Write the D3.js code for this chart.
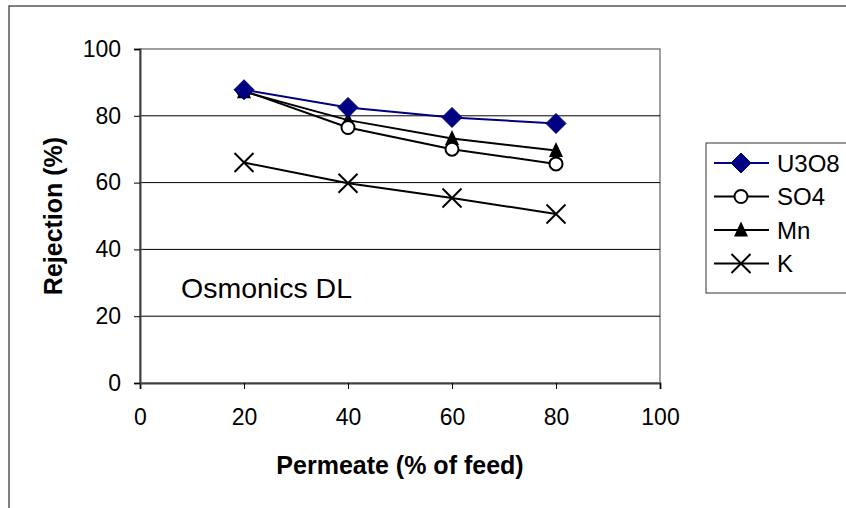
<!DOCTYPE html>
<html>
<head>
<meta charset="utf-8">
<script src="https://cdn.jsdelivr.net/npm/d3@7"></script>
<style>
  html, body { margin: 0; padding: 0; background: #fff; }
  svg { display: block; font-family: Arial, "Liberation Sans", sans-serif; }
</style>
</head>
<body>
<svg id="chart" width="846" height="508"></svg>
<script>
// Rejection of species by the Osmonics DL membrane vs. permeate recovery
const permeate = [20, 40, 60, 80];
const u3o8 = [87.8, 82.5, 79.5, 77.7];
const so4  = [87.5, 76.5, 70.0, 65.6];
const mn   = [87.2, 78.7, 73.2, 69.6];
const kVal = [66.0, 59.8, 55.4, 50.6];
const seriesNames = ["U3O8", "SO4", "Mn", "K"];
const xTicks = [0, 20, 40, 60, 80, 100];
const yTicks = [0, 20, 40, 60, 80, 100];

const series = [
  { name: seriesNames[0], values: u3o8, color: "#000080", marker: "diamond" },
  { name: seriesNames[1], values: so4,  color: "#000000", marker: "circle" },
  { name: seriesNames[2], values: mn,   color: "#000000", marker: "triangle" },
  { name: seriesNames[3], values: kVal, color: "#000000", marker: "cross" }
];

const FONT = "Arial, 'Liberation Sans', sans-serif";
const svg = d3.select("#chart");

// outer chart frame (runs off the right and bottom edges)
svg.append("rect")
  .attr("x", 9).attr("y", 6).attr("width", 860).attr("height", 520)
  .attr("fill", "#fff").attr("stroke", "#555").attr("stroke-width", 1.5);

const x = d3.scaleLinear().domain([0, 100]).range([140, 660]);
const y = d3.scaleLinear().domain([0, 100]).range([383, 49]);

// plot area border
svg.append("rect")
  .attr("x", x(0)).attr("y", y(100))
  .attr("width", x(100) - x(0)).attr("height", y(0) - y(100))
  .attr("fill", "#fff").attr("stroke", "#808080").attr("stroke-width", 1.5);

// horizontal gridlines
svg.append("g").selectAll("line")
  .data(yTicks.filter(d => d > 0 && d < 100))
  .join("line")
  .attr("x1", x(0)).attr("x2", x(100))
  .attr("y1", d => y(d)).attr("y2", d => y(d))
  .attr("stroke", "#000").attr("stroke-width", 1);

// axes
const xAxis = svg.append("g")
  .attr("transform", `translate(0,${y(0)})`)
  .call(d3.axisBottom(x).tickValues(xTicks).tickSize(6).tickPadding(20).tickFormat(d3.format("d")));
const yAxis = svg.append("g")
  .attr("transform", `translate(${x(0)},0)`)
  .call(d3.axisLeft(y).tickValues(yTicks).tickSize(6).tickPadding(13).tickFormat(d3.format("d")));

[xAxis, yAxis].forEach(a => {
  a.attr("font-size", 23).attr("font-family", FONT);
  a.select(".domain").attr("stroke", "#404040").attr("stroke-width", 2);
  a.selectAll(".tick line").attr("stroke", "#000");
  a.selectAll(".tick text").attr("fill", "#000");
});

// axis titles
svg.append("text")
  .attr("x", 400).attr("y", 474)
  .attr("text-anchor", "middle")
  .attr("font-size", 25).attr("font-weight", "bold")
  .text("Permeate (% of feed)");
svg.append("text")
  .attr("transform", `translate(62,${(y(0) + y(100)) / 2}) rotate(-90)`)
  .attr("text-anchor", "middle")
  .attr("font-size", 25).attr("font-weight", "bold")
  .text("Rejection (%)");

// annotation
svg.append("text")
  .attr("x", 181).attr("y", 298)
  .attr("font-size", 28.5)
  .text("Osmonics DL");

function drawMarker(g, type, color) {
  if (type === "diamond") {
    g.append("path").attr("d", "M0,-10L10,0L0,10L-10,0Z").attr("fill", color).attr("stroke", color);
  } else if (type === "circle") {
    g.append("circle").attr("r", 6.5).attr("fill", "#fff").attr("stroke", color).attr("stroke-width", 2);
  } else if (type === "triangle") {
    g.append("path").attr("d", "M0,-8.5L7,6.5L-7,6.5Z").attr("fill", color);
  } else if (type === "cross") {
    g.append("path").attr("d", "M-9.5,-9.5L9.5,9.5M-9.5,9.5L9.5,-9.5").attr("stroke", color).attr("stroke-width", 2).attr("fill", "none");
  }
}

const line = d3.line().x(d => x(d[0])).y(d => y(d[1]));

// draw back to front so U3O8 sits on top
series.slice().reverse().forEach(s => {
  const pts = permeate.map((p, i) => [p, s.values[i]]);
  svg.append("path").datum(pts)
    .attr("d", line).attr("fill", "none")
    .attr("stroke", s.color).attr("stroke-width", 2);
  pts.forEach(p => {
    const g = svg.append("g").attr("transform", `translate(${x(p[0])},${y(p[1])})`);
    drawMarker(g, s.marker, s.color);
  });
});

// legend
const legend = svg.append("g");
legend.append("rect")
  .attr("x", 706).attr("y", 143).attr("width", 160).attr("height", 150)
  .attr("fill", "#fff").attr("stroke", "#333").attr("stroke-width", 1);
series.forEach((s, i) => {
  const ly = 163 + i * 33.5;
  legend.append("line")
    .attr("x1", 714).attr("x2", 769).attr("y1", ly).attr("y2", ly)
    .attr("stroke", s.color).attr("stroke-width", 2);
  const g = legend.append("g").attr("transform", `translate(741,${ly})`);
  drawMarker(g, s.marker, s.color);
  legend.append("text")
    .attr("x", 777).attr("y", ly).attr("dy", "0.36em")
    .attr("font-size", 24).text(s.name);
});
</script>
</body>
</html>
